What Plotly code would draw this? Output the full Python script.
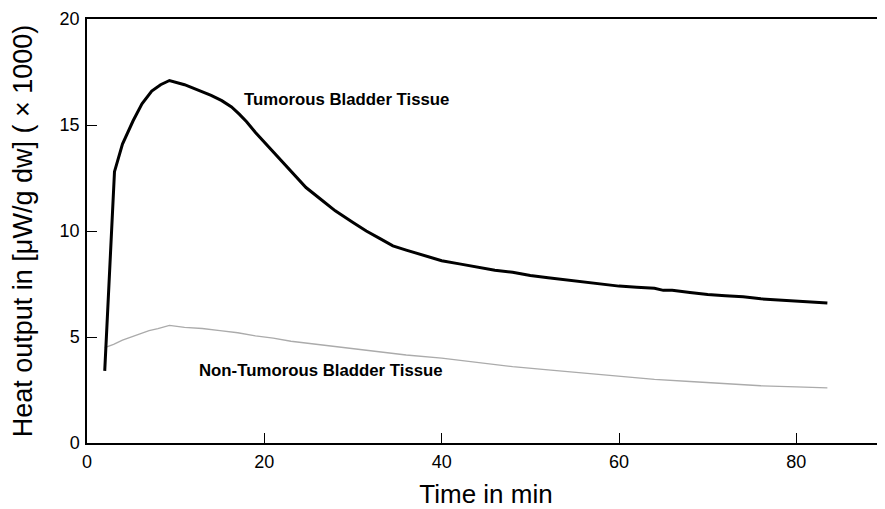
import plotly.graph_objects as go

# Tumorous bladder tissue (time in min, heat output x1000 µW/g dw)
tumor_t = [2.0, 3.1, 4.0, 5.2, 6.2, 7.3, 8.3, 9.3, 11.0, 12.5, 14.0, 15.2, 16.3, 17.2, 18.0,
           19.0, 20.2, 21.7, 23.6, 24.7, 26.5, 28, 30, 31.5, 33, 34.5, 36, 37.5, 39, 40, 42, 44,
           46, 48, 50, 52, 54, 56, 58, 60, 62, 64, 65, 66, 68, 70, 72, 74, 76, 78, 80, 82, 83.5]
tumor_y = [3.4, 12.8, 14.1, 15.2, 16.0, 16.6, 16.9, 17.1, 16.9, 16.65, 16.4, 16.15, 15.85, 15.5,
           15.15, 14.65, 14.1, 13.4, 12.55, 12.05, 11.45, 10.95, 10.4, 10.0, 9.65, 9.3, 9.1,
           8.9, 8.7, 8.6, 8.45, 8.3, 8.15, 8.05, 7.9, 7.8, 7.7, 7.6, 7.5, 7.4, 7.35, 7.3, 7.2,
           7.2, 7.1, 7.0, 6.95, 6.9, 6.8, 6.75, 6.7, 6.65, 6.6]

# Non-tumorous bladder tissue
normal_t = [2.0, 3, 4, 5, 6, 7, 8, 9.3, 11, 13, 15, 17, 19, 21, 23, 25, 27, 30, 33, 36, 40, 44,
            48, 52, 56, 60, 64, 68, 72, 76, 80, 83.5]
normal_y = [4.5, 4.65, 4.85, 5.0, 5.15, 5.3, 5.4, 5.55, 5.45, 5.4, 5.3, 5.2, 5.05, 4.95, 4.8, 4.7,
            4.6, 4.45, 4.3, 4.15, 4.0, 3.8, 3.6, 3.45, 3.3, 3.15, 3.0, 2.9, 2.8, 2.7, 2.65, 2.6]

x_ticks = [0, 20, 40, 60, 80]
y_ticks = [0, 5, 10, 15, 20]

FONT = "Liberation Sans, Arial, Helvetica, sans-serif"

fig = go.Figure()
fig.add_trace(go.Scatter(x=normal_t, y=normal_y, mode="lines",
                         line=dict(color="#ababab", width=1.3), showlegend=False))
fig.add_trace(go.Scatter(x=tumor_t, y=tumor_y, mode="lines",
                         line=dict(color="#000000", width=3), showlegend=False))

fig.add_annotation(x=29.3, y=16.2, text="<b>Tumorous Bladder Tissue</b>", showarrow=False,
                   font=dict(family=FONT, size=16.8, color="black"))
fig.add_annotation(x=26.4, y=3.4, text="<b>Non-Tumorous Bladder Tissue</b>", showarrow=False,
                   font=dict(family=FONT, size=16.8, color="black"))

# page body has an 8px default margin, so the figure is sized to fit inside the window
fig.update_layout(
    width=877, height=501,
    margin=dict(l=79, r=0, t=11, b=66),
    paper_bgcolor="white", plot_bgcolor="white",
    font=dict(family=FONT, color="black"),
    xaxis=dict(range=[0, 90], tickvals=x_ticks, ticks="inside", ticklen=10, tickwidth=1,
               tickcolor="black", showline=True, linecolor="black", linewidth=1.5, mirror=True,
               showgrid=False, zeroline=False, tickfont=dict(size=18), automargin=False,
               ticklabelstandoff=2,
               title=dict(text="Time in min", font=dict(size=26), standoff=19)),
    yaxis=dict(range=[0, 20], tickvals=y_ticks, ticks="inside", ticklen=10, tickwidth=1,
               tickcolor="black", showline=True, linecolor="black", linewidth=1.5,
               showgrid=False, zeroline=False, tickfont=dict(size=18), automargin=False,
               ticklabelstandoff=2,
               title=dict(text="Heat output in [μW/g dw] ( × 1000)", font=dict(size=27), standoff=21)),
)

fig.write_html("out.html")
